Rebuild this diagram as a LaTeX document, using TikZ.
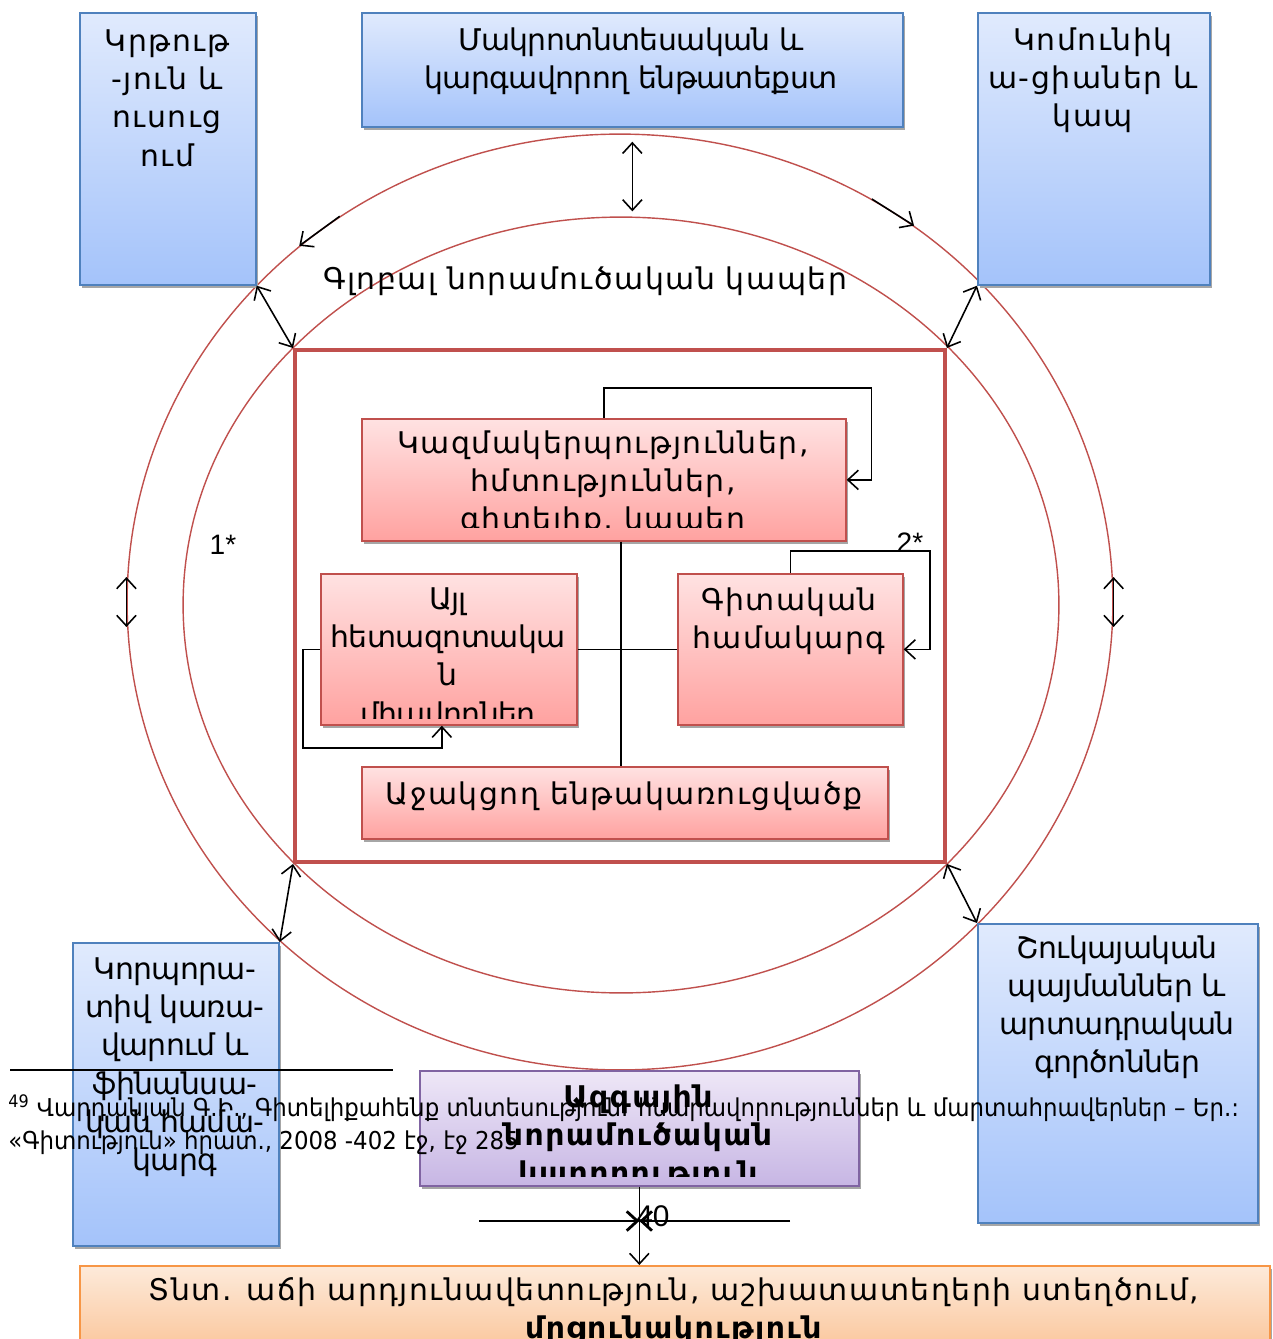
\documentclass[tikz,border=0pt]{standalone}
\usepackage{fontspec}
\setmainfont{DejaVu Sans}
\newfontfamily\armfont{DejaVu Sans}[LetterSpace=5]
\newfontfamily\armnarrow{DejaVu Sans}[LetterSpace=-2]
\newfontfamily\notefont{DejaVu Sans}[FakeStretch=0.93]
\newfontfamily\latfont{Liberation Sans}
\usetikzlibrary{
  arrows.meta,
  shapes.geometric,
  shadows,
  positioning
}
\usepackage{xcolor}
\definecolor{boxBlue}{RGB}{79,129,189}
\definecolor{blueTop}{RGB}{224,234,253}
\definecolor{blueBottom}{RGB}{164,195,250}
\definecolor{boxRed}{RGB}{192,80,77}
\definecolor{pinkTop}{RGB}{255,226,226}
\definecolor{pinkBottom}{RGB}{255,162,160}
\definecolor{boxViolet}{RGB}{128,100,162}
\definecolor{lilacTop}{RGB}{238,231,247}
\definecolor{lilacBottom}{RGB}{199,182,228}
\definecolor{boxOrange}{RGB}{247,150,70}
\definecolor{peachTop}{RGB}{253,234,218}
\definecolor{peachBottom}{RGB}{250,191,143}
\tikzset{
  card/.style={
    draw,
    line width=1pt,
    inner sep=0pt,
    anchor=north west,
    drop shadow={shadow xshift=1.2pt, shadow yshift=-2pt, fill=black!35, opacity=1}
  },
  bluebox/.style={card, draw=boxBlue, top color=blueTop, bottom color=blueBottom},
  pinkbox/.style={card, draw=boxRed, top color=pinkTop, bottom color=pinkBottom},
  lilacbox/.style={card, draw=boxViolet, top color=lilacTop, bottom color=lilacBottom},
  peachbox/.style={card, draw=boxOrange, top color=peachTop, bottom color=peachBottom},
  boxtext/.style={
    font=\armfont\fontsize{17}{21.8}\selectfont,
    align=center,
    anchor=north,
    inner sep=0pt
  },
  narrowtext/.style={boxtext, font=\armnarrow\fontsize{17}{21.8}\selectfont}
}

\begin{document}
\begin{tikzpicture}[
      x=0.02cm, y=-0.02cm,
      >={Straight Barb[length=6pt,width=11pt]},
      link/.style={draw=black, line width=0.9pt},
      dbl/.style={link, <->},
      ring/.style={ellipse, draw=boxRed, line width=0.8pt, inner sep=0pt},
      starnote/.style={font=\latfont\fontsize{16}{19}\selectfont, inner sep=0pt},
      notetext/.style={font=\notefont\fontsize{14}{18.7}\selectfont, align=left, inner sep=0pt, anchor=north west}
      ]
      \useasboundingbox (0,0) rectangle (1272,1339);
      \path[fill=white] (0,0) rectangle (1272,1339);

      % rings
      \node[ring, minimum width=19.72cm, minimum height=18.72cm] (outer) at (620,602) {};
      \node[ring, minimum width=17.52cm, minimum height=15.52cm] (inner) at (621,605) {};
      \node[font=\armfont\fontsize{17}{21.8}\selectfont, inner sep=0pt] (global) at (585,281) {Գլոբալ նորամուծական կապեր};

      % outer boxes
      \node[bluebox, minimum width=3.52cm, minimum height=5.44cm] (tl) at (79,12) {};
      \node[bluebox, minimum width=10.82cm, minimum height=2.28cm] (tc) at (361,12) {};
      \node[bluebox, minimum width=4.64cm, minimum height=5.44cm] (tr) at (977,12) {};
      \node[bluebox, minimum width=4.12cm, minimum height=6.06cm] (bl) at (72,942) {};
      \node[bluebox, minimum width=5.60cm, minimum height=5.98cm] (br) at (977,923) {};
      \node[boxtext] (tl-t) at (167,29) {Կրթութ\\-յուն և\\ուսուց\\ում};
      \node[narrowtext] (tc-t) at (631,27) {Մակրոտնտեսական և\\կարգավորող ենթատեքստ};
      \node[boxtext] (tr-t) at (1093,27) {Կոմունիկ\\ա-ցիաներ և\\կապ};
      \node[narrowtext] (bl-t) at (175,957) {Կորպորա-\\տիվ կառա-\\վարում և\\ֆինանսա-\\կան համա-\\կարգ};
      \node[narrowtext] (br-t) at (1117,935) {Շուկայական\\պայմաններ և\\արտադրական\\գործոններ};

      % inner frame
      \node[draw=boxRed, fill=white, line width=2.3pt, inner sep=0pt, anchor=north west,
        minimum width=13cm, minimum height=10.24cm] (frame) at (293,348) {};
      \node[pinkbox, minimum width=9.68cm, minimum height=2.44cm] (k) at (361,418) {};
      \node[pinkbox, minimum width=5.12cm, minimum height=3.02cm] (ayl) at (320,573) {};
      \node[pinkbox, minimum width=4.50cm, minimum height=3.02cm] (git) at (677,573) {};
      \node[pinkbox, minimum width=10.52cm, minimum height=1.44cm] (aj) at (361,766) {};
      \begin{scope}
        \clip (361,418) rectangle (845,527);
        \node[boxtext] (k-t) at (603,430) {Կազմակերպություններ,\\հմտություններ,\\գիտելիք, կապեր};
      \end{scope}
      \begin{scope}
        \clip (320,573) rectangle (576,718);
        \node[narrowtext] (ayl-t) at (448,587) {Այլ\\հետազոտակա\\ն\\միավորներ};
      \end{scope}
      \node[boxtext] (git-t) at (789,587) {Գիտական\\համակարգ};
      \node[boxtext, anchor=center] (aj-t) at (624,796) {Աջակցող ենթակառուցվածք};

      % links inside the frame
      \coordinate (hub) at (621,648);
      \draw[link] (hub |- k.south) -- (hub |- aj.north);
      \draw[link] (ayl.east) -- (git.west);
      \draw[link, ->] (k.north) -- ([yshift=0.6cm]k.north) -| ([xshift=0.5cm]k.east) -- (k.east);
      \draw[link, ->] (git.north) -- ([yshift=0.44cm]git.north) -| ([xshift=0.52cm]git.east) -- (git.east);
      \draw[link, ->] (ayl.west) -- ([xshift=-0.34cm]ayl.west) |- ([xshift=-0.14cm, yshift=-0.44cm]ayl.south) -- ([xshift=-0.14cm]ayl.south);
      \node[starnote] (one) at (223,545) {1*};
      \node[starnote] (two) at (910,543) {2*};

      % links across the rings
      \draw[dbl] ([yshift=-0.28cm]tc.south) -- ([yshift=0.1cm]tc.south |- inner.north);
      \draw[dbl] (tl.south east) -- (frame.north west);
      \draw[dbl] (tr.south west) -- (frame.north east);
      \draw[dbl] (frame.south west) -- (bl.north east);
      \draw[dbl] (frame.south east) -- (br.north west);
      \draw[dbl] ([yshift=0.5cm]outer.west) -- ([yshift=-0.5cm]outer.west);
      \draw[dbl] ([yshift=0.5cm]outer.east) -- ([yshift=-0.5cm]outer.east);
      \draw[link, ->] (outer.126) -- (outer.132);
      \draw[link, ->] (outer.58) -- (outer.52);

      % national capacity and result
      \node[lilacbox, minimum width=8.78cm, minimum height=2.30cm] (nat) at (419,1070) {};
      \begin{scope}
        \clip (419,1070) rectangle (858,1176);
        \node[boxtext, font=\armfont\bfseries\fontsize{17}{21.8}\selectfont] (nat-t) at (638,1084) {Ազգային\\նորամուծական\\կարողություն};
      \end{scope}
      \node[peachbox, minimum width=23.80cm, minimum height=2cm] (res) at (79,1265) {};
      \node[boxtext] (res-t) at (674,1277) {Տնտ. աճի արդյունավետություն, աշխատատեղերի ստեղծում,\\\textbf{մրցունակություն}};
      \draw[link, ->] (nat.south) -- (nat.south |- res.north);
      \coordinate (bar-l) at (479,1221);
      \coordinate (bar-r) at (790,1221);
      \coordinate (bar-m) at (nat.south |- bar-l);
      \draw[link, line width=1.6pt, ->] (bar-l) -- (bar-m);
      \draw[link, line width=1.6pt, ->] (bar-r) -- (bar-m);
      \node[starnote, anchor=west, font=\latfont\fontsize{17}{20}\selectfont] (forty) at (636,1216) {40};

      % footnote
      \coordinate (rule-a) at (10,1070);
      \coordinate (rule-b) at (393,1070);
      \draw[line width=1pt] (rule-a) -- (rule-b);
      \node[notetext] (fn) at (8,1094) {\textsuperscript{49} Վարդանյան Գ.Ի., Գիտելիքահենք տնտեսություն. հնարավորություններ և մարտահրավերներ – Եր.:\\«Գիտություն» հրատ., 2008 -402 էջ, էջ 285};
    \end{tikzpicture}
\end{document}
